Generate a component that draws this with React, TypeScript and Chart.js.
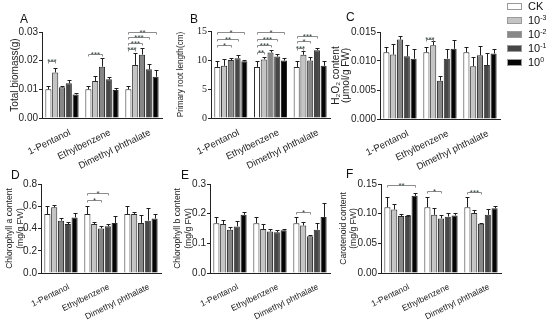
import React, { useEffect, useRef } from 'react';
import { Chart, registerables } from 'chart.js';

Chart.register(...registerables);

const SANS = "'Liberation Sans', Arial, Helvetica, sans-serif";
const SERIF = "'Liberation Serif', 'Times New Roman', serif";

const categories = ['1-Pentanol', 'Ethylbenzene', 'Dimethyl phthalate'];
const seriesNames = ['CK', '10^-3', '10^-2', '10^-1', '10^0'];
const legendBase = ['CK', '10', '10', '10', '10'];
const legendExp = ['', '-3', '-2', '-1', '0'];
const seriesColors = ['#ffffff', '#c4c4c4', '#878787', '#464646', '#050505'];

// ---- A: Total biomass (g) ---- rows = series, cols = categories
const biomassMean = [
  [0.0100, 0.0100, 0.0100],
  [0.0159, 0.0129, 0.0185],
  [0.0107, 0.0179, 0.0221],
  [0.0121, 0.0135, 0.0170],
  [0.0082, 0.0098, 0.0144],
];
const biomassErr = [
  [0.0012, 0.0012, 0.0012],
  [0.0014, 0.0017, 0.0042],
  [0.0006, 0.0032, 0.0024],
  [0.0012, 0.0009, 0.0018],
  [0.0006, 0.0007, 0.0023],
];
// [group, fromSeries, toSeries, value, label]
const biomassSig: [number, number, number, number, string][] = [
  [0, 0, 1, 0.0198, '***'],
  [1, 0, 2, 0.0225, '***'],
  [2, 0, 1, 0.0242, '***'],
  [2, 0, 2, 0.0263, '***'],
  [2, 0, 3, 0.0281, '***'],
  [2, 0, 4, 0.0300, '**'],
];
const biomassAxis = [0, 0.03, 0.01];

// ---- B: Primary root length (cm) ----
const rootMean = [
  [8.8, 8.8, 8.8],
  [9.0, 10.1, 10.9],
  [10.0, 11.3, 9.9],
  [10.3, 10.6, 11.7],
  [9.8, 9.9, 9.0],
];
const rootErr = [
  [0.95, 0.95, 0.95],
  [1.1, 0.5, 0.7],
  [0.3, 0.5, 0.6],
  [0.6, 0.4, 0.4],
  [0.2, 0.4, 0.8],
];
const rootSig: [number, number, number, number, string][] = [
  [0, 0, 2, 12.6, '*'],
  [0, 0, 3, 13.7, '**'],
  [0, 0, 4, 14.9, '*'],
  [1, 0, 1, 11.4, '**'],
  [1, 0, 2, 12.6, '***'],
  [1, 0, 3, 13.7, '***'],
  [1, 0, 4, 14.9, '*'],
  [2, 0, 1, 12.0, '***'],
  [2, 0, 2, 13.2, '*'],
  [2, 0, 3, 14.1, '***'],
];
const rootAxis = [0, 15, 5];

// ---- C: H2O2 content ----
const h2o2Mean = [
  [0.0115, 0.0115, 0.0115],
  [0.0111, 0.0127, 0.0091],
  [0.0137, 0.0066, 0.0110],
  [0.0108, 0.0104, 0.0093],
  [0.0104, 0.0121, 0.0113],
];
const h2o2Err = [
  [0.0010, 0.0010, 0.0010],
  [0.0018, 0.0007, 0.0016],
  [0.0006, 0.0008, 0.0016],
  [0.0020, 0.0017, 0.0020],
  [0.0016, 0.0016, 0.0008],
];
const h2o2Sig: [number, number, number, number, string][] = [
  [1, 0, 1, 0.0138, '***'],
];
const h2o2Axis = [0, 0.015, 0.005];

// ---- D: Chlorophyll a ----
const chlAMean = [
  [0.53, 0.53, 0.53],
  [0.59, 0.44, 0.53],
  [0.47, 0.40, 0.45],
  [0.44, 0.42, 0.47],
  [0.50, 0.45, 0.49],
];
const chlAErr = [
  [0.07, 0.07, 0.07],
  [0.02, 0.02, 0.02],
  [0.02, 0.02, 0.07],
  [0.02, 0.02, 0.11],
  [0.04, 0.06, 0.04],
];
const chlASig: [number, number, number, number, string][] = [
  [1, 0, 2, 0.655, '*'],
  [1, 0, 3, 0.72, '*'],
];
const chlAAxis = [0, 0.8, 0.2];

// ---- E: Chlorophyll b ----
const chlBMean = [
  [0.168, 0.168, 0.168],
  [0.165, 0.148, 0.160],
  [0.146, 0.140, 0.124],
  [0.157, 0.137, 0.146],
  [0.196, 0.144, 0.189],
];
const chlBErr = [
  [0.021, 0.021, 0.021],
  [0.015, 0.017, 0.012],
  [0.008, 0.008, 0.003],
  [0.019, 0.009, 0.022],
  [0.010, 0.005, 0.047],
];
const chlBSig: [number, number, number, number, string][] = [
  [2, 0, 2, 0.204, '*'],
];
const chlBAxis = [0, 0.3, 0.1];

// ---- F: Carotenoid ----
const carMean = [
  [0.111, 0.111, 0.111],
  [0.107, 0.098, 0.101],
  [0.096, 0.092, 0.083],
  [0.096, 0.095, 0.098],
  [0.130, 0.097, 0.109],
];
const carErr = [
  [0.017, 0.017, 0.017],
  [0.009, 0.012, 0.006],
  [0.004, 0.005, 0.002],
  [0.002, 0.006, 0.010],
  [0.004, 0.004, 0.004],
];
const carSig: [number, number, number, number, string][] = [
  [0, 0, 4, 0.148, '**'],
  [1, 0, 2, 0.138, '*'],
  [2, 0, 2, 0.136, '***'],
];
const carAxis = [0, 0.15, 0.05];

type Panel = {
  letter: string;
  mean: number[][];
  err: number[][];
  sig: [number, number, number, number, string][];
  axis: number[];
  decimals: number;
  title: string | string[];
  titleSize: number;
  titleLH: number;
  tickFamily: string;
  left: number; right: number; top: number; bottom: number; titleX: number;
  xFont: number; letterX: number; letterY: number;
};

const panels: Panel[] = [
  { letter: 'A', mean: biomassMean, err: biomassErr, sig: biomassSig, axis: biomassAxis, decimals: 2,
    title: 'Total biomass(g)', titleSize: 10, titleLH: 12, tickFamily: SANS,
    left: 42, right: 162, top: 32, bottom: 118, titleX: 15, xFont: 9.5, letterX: 20, letterY: 13 },
  { letter: 'B', mean: rootMean, err: rootErr, sig: rootSig, axis: rootAxis, decimals: 0,
    title: 'Primary root length(cm)', titleSize: 8.2, titleLH: 9, tickFamily: SERIF,
    left: 211, right: 330, top: 31, bottom: 118, titleX: 181, xFont: 9.5, letterX: 190, letterY: 13 },
  { letter: 'C', mean: h2o2Mean, err: h2o2Err, sig: h2o2Sig, axis: h2o2Axis, decimals: 3,
    title: ['H\u2082O\u2082 content', '(\u03bcmol/g FW)'], titleSize: 10, titleLH: 10, tickFamily: SANS,
    left: 380, right: 500, top: 32, bottom: 119, titleX: 336.5, xFont: 9.5, letterX: 346, letterY: 11 },
  { letter: 'D', mean: chlAMean, err: chlAErr, sig: chlASig, axis: chlAAxis, decimals: 1,
    title: ['Chlorophyll a content', '(mg/g FW)'], titleSize: 8.6, titleLH: 11, tickFamily: SANS,
    left: 41, right: 161, top: 184, bottom: 273, titleX: 10, xFont: 8.5, letterX: 11, letterY: 169 },
  { letter: 'E', mean: chlBMean, err: chlBErr, sig: chlBSig, axis: chlBAxis, decimals: 1,
    title: ['Chlorophyll b content', '(mg/g FW)'], titleSize: 8.6, titleLH: 11, tickFamily: SANS,
    left: 210, right: 330, top: 184, bottom: 273, titleX: 178, xFont: 8.5, letterX: 181, letterY: 169 },
  { letter: 'F', mean: carMean, err: carErr, sig: carSig, axis: carAxis, decimals: 2,
    title: ['Carotenoid content', '(mg/g FW)'], titleSize: 8.6, titleLH: 10, tickFamily: SANS,
    left: 381, right: 501, top: 184, bottom: 273, titleX: 343.5, xFont: 8.5, letterX: 346, letterY: 168 },
];

const W = 550;
const H = 325;
const XH = 51;

const annotPlugin = {
  id: 'annot',
  afterDatasetsDraw(chart: any, _args: any, opts: any) {
    const { ctx } = chart;
    const ys = chart.scales.y;
    const errs: number[][] = opts.errors || [];
    const sig: [number, number, number, number, string][] = opts.sig || [];
    ctx.save();
    ctx.strokeStyle = '#1e1e1e';
    ctx.lineWidth = 1;
    chart.data.datasets.forEach((ds: any, i: number) => {
      const meta = chart.getDatasetMeta(i);
      meta.data.forEach((bar: any, j: number) => {
        const v = ds.data[j] as number;
        const e = errs[i] ? errs[i][j] : 0;
        if (!e) return;
        const x = Math.round(bar.x) + 0.5;
        const y0 = ys.getPixelForValue(v);
        const y1 = Math.round(ys.getPixelForValue(v + e)) + 0.5;
        ctx.beginPath();
        ctx.moveTo(x, y0);
        ctx.lineTo(x, y1);
        ctx.moveTo(x - 2, y1);
        ctx.lineTo(x + 2, y1);
        ctx.stroke();
      });
    });
    ctx.strokeStyle = '#8c8c8c';
    ctx.fillStyle = '#33453a';
    ctx.font = `8px ${SANS}`;
    ctx.textAlign = 'center';
    ctx.textBaseline = 'alphabetic';
    sig.forEach(([g, a, b, val, label]) => {
      const x1 = Math.round(chart.getDatasetMeta(a).data[g].x) + 0.5;
      const x2 = Math.round(chart.getDatasetMeta(b).data[g].x) + 0.5;
      const y = Math.round(ys.getPixelForValue(val)) + 0.5;
      ctx.beginPath();
      ctx.moveTo(x1, y + 2);
      ctx.lineTo(x1, y);
      ctx.lineTo(x2, y);
      ctx.lineTo(x2, y + 2);
      ctx.stroke();
      ctx.fillText(label, (x1 + x2) / 2, y + 2.5);
    });
    ctx.restore();
  },
};

function PanelChart({ p }: { p: Panel }) {
  const ref = useRef<HTMLCanvasElement | null>(null);
  useEffect(() => {
    if (!ref.current) return;
    const titleLines = Array.isArray(p.title) ? p.title : [p.title];
    const padLeft = p.titleX - p.titleLH / 2;
    const yWidth = p.left - padLeft;
    const chart = new Chart(ref.current, {
      type: 'bar',
      data: {
        labels: categories,
        datasets: p.mean.map((row, i) => ({
          label: seriesNames[i],
          data: row,
          backgroundColor: seriesColors[i],
          borderColor: '#2a2a2a',
          borderWidth: 1,
          barPercentage: 0.9,
          categoryPercentage: 0.85,
        })),
      },
      options: {
        responsive: false,
        animation: false,
        devicePixelRatio: 1,
        events: [],
        layout: {
          autoPadding: false,
          padding: { left: padLeft, top: p.top, right: W - p.right, bottom: Math.max(0, H - p.bottom - XH) },
        },
        plugins: {
          legend: { display: false },
          tooltip: { enabled: false },
          annot: { errors: p.err, sig: p.sig },
        } as any,
        scales: {
          x: {
            type: 'category',
            offset: true,
            grid: { display: false },
            border: { display: true, color: '#222', width: 1 },
            ticks: {
              autoSkip: false,
              minRotation: 26,
              maxRotation: 26,
              labelOffset: 8,
              padding: 1,
              color: '#222',
              font: { family: SANS, size: p.xFont },
            },
            afterFit: (s: any) => { s.height = Math.min(XH, H - p.bottom); },
          },
          y: {
            min: p.axis[0],
            max: p.axis[1],
            border: { display: true, color: '#222', width: 1 },
            grid: { display: true, drawOnChartArea: false, drawTicks: true, tickLength: 3, color: '#222' },
            ticks: {
              stepSize: p.axis[2],
              padding: 1,
              color: '#222',
              font: { family: p.tickFamily, size: 10 },
              callback: (v: any) => Number(v).toFixed(p.decimals),
            },
            title: {
              display: true,
              text: titleLines,
              color: '#222',
              padding: 0,
              font: { family: SANS, size: p.titleSize, lineHeight: p.titleLH / p.titleSize },
            },
            afterFit: (s: any) => { s.width = yWidth; },
          },
        },
      } as any,
      plugins: [annotPlugin as any],
    });
    return () => chart.destroy();
  }, [p]);
  return (
    <canvas
      ref={ref}
      width={W}
      height={H}
      style={{ position: 'absolute', left: 0, top: 0, width: W, height: H }}
    />
  );
}

export default function App() {
  return (
    <div style={{ position: 'absolute', left: 0, top: 0, width: W, height: H, background: '#fff', overflow: 'hidden', fontFamily: SANS }}>
      {panels.map((p) => (
        <PanelChart key={p.letter} p={p} />
      ))}
      {panels.map((p) => (
        <div key={'l' + p.letter} style={{ position: 'absolute', left: p.letterX, top: p.letterY, fontSize: 12, lineHeight: '12px', color: '#111' }}>
          {p.letter}
        </div>
      ))}
      <div style={{ position: 'absolute', left: 507, top: 0 }}>
        {legendBase.map((b, i) => (
          <div key={i} style={{ position: 'absolute', left: 0, top: i * 14, height: 13, width: 45, whiteSpace: 'nowrap' }}>
            <div style={{ position: 'absolute', left: 0, top: 3, width: 13, height: 5, background: seriesColors[i], border: '1px solid #9a9a9a' }} />
            <div style={{ position: 'absolute', left: 21, top: 0, fontSize: 11, lineHeight: '13px', color: '#111' }}>
              {b}
              {legendExp[i] && <sup style={{ fontSize: 7, verticalAlign: 'top', lineHeight: '9px', position: 'relative', top: -1 }}>{legendExp[i]}</sup>}
            </div>
          </div>
        ))}
      </div>
    </div>
  );
}
